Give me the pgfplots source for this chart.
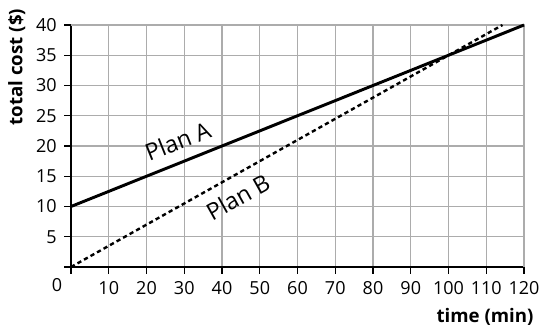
\documentclass[border=0pt]{standalone}
\usepackage{pgfplots}
\pgfplotsset{compat=1.18}
\usepackage{fontspec}
\setmainfont{Open Sans}
\begin{document}
\fontsize{13.5}{16}\selectfont
\begin{tikzpicture}
\begin{axis}[
  scale only axis,
  width=339.75pt, height=181.5pt,
  xmin=0, xmax=120, ymin=0, ymax=40,
  xtick={0,10,...,120},
  xticklabels={,10,20,30,40,50,60,70,80,90,100,110,120},
  ytick={0,5,...,40},
  yticklabels={,5,10,15,20,25,30,35,40},
  /pgf/number format/assume math mode=true,
  grid=major,
  grid style={gray!65, line width=0.8pt},
  axis x line*=bottom, axis y line*=left,
  axis line style={black, line width=1.8pt, -},
  tick style={black, line width=1.1pt},
  tick align=outside, major tick length=5pt,
  xticklabel style={yshift=-1pt},
  yticklabel style={xshift=-1pt},
  xlabel={\bfseries time (min)},
  xlabel style={at={(ticklabel cs:0.914)}, anchor=near ticklabel, yshift=-1pt, font=\fontsize{14}{16}\selectfont},
  ylabel={\bfseries total cost (\$)},
  ylabel style={at={(ticklabel cs:0.826)}, anchor=near ticklabel, yshift=-1pt, font=\fontsize{14}{16}\selectfont},
  clip=false,
]
\coordinate (o) at (rel axis cs:0,0);
% top and right border drawn like grid lines
\draw[gray!65, line width=0.8pt] (rel axis cs:0,1) -- (rel axis cs:1,1) -- (rel axis cs:1,0);
\addplot[black, line width=2.2pt] coordinates {(0,10) (120,40)};
\addplot[black, line width=1.8pt, dash pattern=on 3.2pt off 2.4pt] coordinates {(0,0) (114.3,40)};
\node[rotate=21.8, font=\fontsize{17.5}{20}\selectfont] at (axis cs:28.3,20.8) {Plan A};
\node[rotate=29.3, font=\fontsize{17.5}{20}\selectfont] at (axis cs:44.2,11.6) {Plan B};
\node at (axis cs:0,0) [xshift=-10.5pt, yshift=-13.5pt] {0};
\end{axis}
\pgfresetboundingbox
\path[use as bounding box] (o) ++(-53.25pt,-44.25pt) rectangle ++(404.25pt,244.5pt);
\end{tikzpicture}
\end{document}
